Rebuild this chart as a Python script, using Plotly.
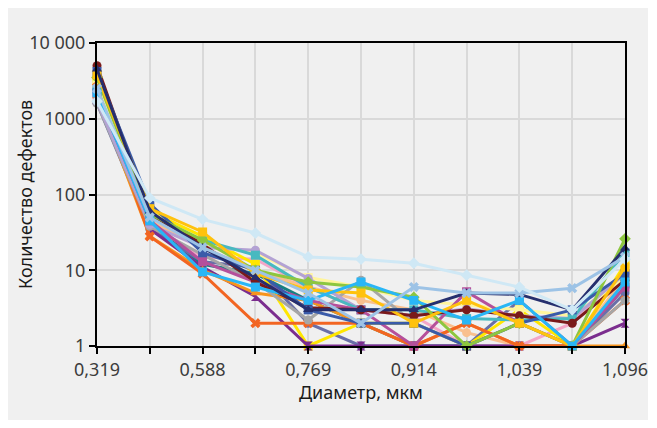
import plotly.graph_objects as go

# Categories (diameter, µm); only every other one is labelled on the axis
x_index = list(range(11))
x_labels = ["0,319", "", "0,588", "", "0,769", "", "0,914", "", "1,039", "", "1,096"]

y_tick_vals = [1, 10, 100, 1000, 10000]
y_tick_text = ["1", "10", "100", "1000", "10 000"]

x_title = "Диаметр, мкм"
y_title = "Количество дефектов"

# Series values (defect counts)
s01 = [1700, 90, 47, 31, 15, 14, 12.4, 8.6, 6, 3, 14]
s02 = [2500, 50, 20, 10, 5, 2, 6, 5, 5, 5.8, 15]
s03 = [3500, 55, 25, 10, 7, 6, 4.4, 1, 2, 1, 26]
s04 = [4500, 60, 20, 8, 3, 3, 3, 5, 4.8, 3, 19.5]
s05 = [2000, 28, 10, 5, 4, 2, 1, 2, 1, 1, 1]
s06 = [1800, 35, 11, 4.5, 1, 1, 1, 1, 1, 1, 2]
s07 = [2600, 28, 9, 2, 2, 2, 1, 2, 1, 1, 4]
s08 = [3800, 65, 32, 9, 5.5, 5, 2, 4, 2, 1, 11]
s09 = [1600, 38, 16, 7, 2.2, 7.4, 2, 1, 2, 1, 4]
s10 = [2200, 45, 13, 7, 4, 3, 1, 5.2, 2, 1, 6]
s11 = [2200, 45, 9.5, 6, 4, 7, 4, 2.2, 4, 1, 7]
s12 = [1700, 40, 20, 18.4, 7.8, 3, 2.5, 3.1, 2.5, 2.3, 9]
s13 = [2400, 50, 25, 15.8, 6, 3, 3, 2.3, 2.2, 2.3, 17]
s14 = [1900, 40, 15, 14, 6, 3, 2.5, 1, 1, 2, 10]
s15 = [2800, 60, 22, 17, 8, 6, 4, 3.5, 3, 2.5, 8]
s16 = [5000, 55, 22, 7, 3.2, 3, 2.5, 3, 2.5, 2, 7.4]
s17 = [1600, 35, 13, 11, 2, 1, 1, 1, 4, 1, 5]
s18 = [4200, 75, 17, 10, 3, 2, 2, 1, 2, 3, 9]
s19 = [2000, 45, 20, 10, 6, 4, 3, 1.5, 1, 1, 8]
s20 = [3200, 60, 28, 12, 1, 2, 2, 1, 3, 1, 12]
s21 = [2500, 40, 12, 9, 4, 2, 1, 1, 1, 1, 6]

series = [
    (s21, "#178080", "circle"),
    (s19, "#f9c08f", "circle"),
    (s14, "#f4a6c8", "circle"),
    (s17, "#6a6fa8", "circle"),
    (s20, "#ffe600", "square"),
    (s15, "#fff59d", "square"),
    (s06, "#7b2d8e", "hourglass"),
    (s05, "#f7941d", "triangle-up"),
    (s07, "#f26522", "x"),
    (s09, "#a6a6a6", "circle"),
    (s12, "#b3a2d4", "circle"),
    (s13, "#48b9c0", "square"),
    (s10, "#b5509b", "square"),
    (s16, "#7a1a1a", "circle"),
    (s18, "#3a5ba9", "square"),
    (s03, "#8dc63f", "diamond"),
    (s08, "#ffc20e", "square"),
    (s11, "#29b6f6", "square"),
    (s04, "#262f6e", "triangle-up"),
    (s02, "#9dc3e6", "x"),
    (s01, "#cfe8f5", "diamond"),
]

fig = go.Figure()
for vals, color, sym in series:
    fig.add_trace(go.Scatter(
        x=x_index, y=vals, mode="lines+markers",
        line=dict(color=color, width=3),
        marker=dict(color=color, symbol=sym, size=9),
        cliponaxis=False, showlegend=False,
    ))

# page is offset by the 8px body margin
OFF = 8
W, H = 657 - OFF, 428 - OFF
L, R, T, B = 97 - OFF, 625 - OFF, 43 - OFF, 346 - OFF
pw, ph = R - L, B - T

fig.add_shape(type="rect", xref="paper", yref="paper", layer="below",
              x0=(0 - L) / pw, x1=(648 - OFF - L) / pw,
              y0=(B - (420 - OFF)) / ph, y1=(B - 0) / ph,
              fillcolor="#f0f0f0", line=dict(width=0))

font = "Noto Sans, Open Sans, sans-serif"
fig.add_annotation(text=x_title, xref="paper", yref="paper",
                   x=0.5, y=(B - (392 - OFF)) / ph, xanchor="center", yanchor="middle",
                   showarrow=False, font=dict(size=18, color="#1a1a1a"))
fig.add_annotation(text=y_title, xref="paper", yref="paper",
                   x=(25 - OFF - L) / pw, y=(B - (195 - OFF)) / ph,
                   xanchor="center", yanchor="middle",
                   textangle=-90, showarrow=False, font=dict(size=18, color="#1a1a1a"))

fig.update_layout(
    width=W, height=H,
    margin=dict(l=L, r=W - R, t=T, b=H - B, autoexpand=False),
    paper_bgcolor="white", plot_bgcolor="#f0f0f0",
    font=dict(family=font, size=18, color="#3c3c3c"),
    xaxis=dict(
        range=[0, 10], tickvals=x_index, ticktext=x_labels,
        showgrid=True, gridcolor="#d9d9d9", gridwidth=1.5,
        showline=True, linecolor="black", linewidth=2, mirror=True,
        ticks="outside", ticklen=6, tickwidth=2, tickcolor="black",
        zeroline=False, automargin=False,
    ),
    yaxis=dict(
        type="log", range=[0, 4], tickvals=y_tick_vals, ticktext=y_tick_text,
        showgrid=True, gridcolor="#d9d9d9", gridwidth=1.5,
        showline=True, linecolor="black", linewidth=2, mirror=True,
        ticks="outside", ticklen=6, tickwidth=2, tickcolor="black",
        zeroline=False, automargin=False,
    ),
)

fig.write_html("out.html")
